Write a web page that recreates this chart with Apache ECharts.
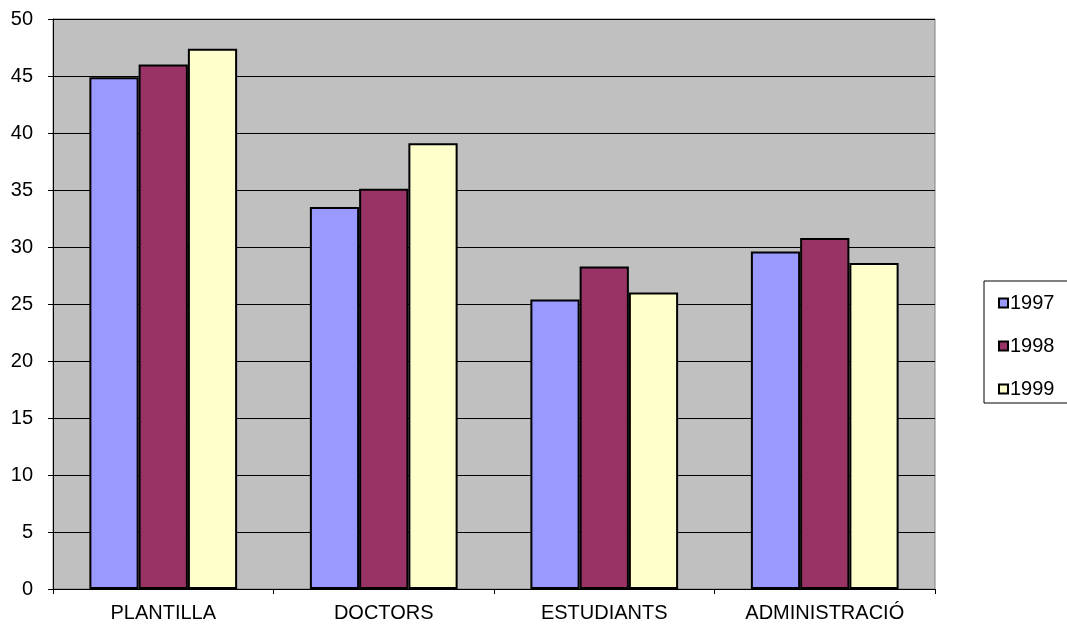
<!DOCTYPE html>
<html>
<head>
<meta charset="utf-8">
<script src="https://cdn.jsdelivr.net/npm/echarts@6/dist/echarts.min.js"></script>
<style>
  html, body { margin: 0; padding: 0; background: #fff; }
  #main { width: 1067px; height: 628px; }
</style>
</head>
<body>
<div id="main"></div>
<script>
// dades
var categories = ['PLANTILLA', 'DOCTORS', 'ESTUDIANTS', 'ADMINISTRACIÓ'];
var years = ['1997', '1998', '1999'];
var values1997 = [44.9, 33.5, 25.4, 29.6];
var values1998 = [46.0, 35.1, 28.3, 30.8];
var values1999 = [47.4, 39.1, 26.0, 28.6];
var colors = ['#9999FF', '#993366', '#FFFFCC'];

var chart = echarts.init(document.getElementById('main'), null, { renderer: 'canvas' });
var font = 'Liberation Sans, Arial, sans-serif';

function bar(name, data, color) {
  return {
    name: name,
    type: 'bar',
    data: data,
    barGap: '0%',
    barCategoryGap: '33%',
    itemStyle: { color: color, borderColor: '#000', borderWidth: 2 },
    emphasis: { disabled: true }
  };
}

var option = {
  animation: false,
  grid: {
    left: 53, right: 132, top: 19, bottom: 39,
    show: true,
    backgroundColor: '#C0C0C0',
    borderColor: '#808080',
    borderWidth: 1
  },
  legend: {
    orient: 'vertical',
    left: 984,
    top: 281,
    padding: [12, 40, 4, 14],
    itemGap: 23,
    itemWidth: 9,
    itemHeight: 9,
    icon: 'rect',
    borderColor: '#000',
    borderWidth: 1,
    data: years,
    textStyle: { fontFamily: font, fontSize: 20, color: '#000', lineHeight: 20, padding: [0, 0, 0, -3] }
  },
  xAxis: {
    type: 'category',
    data: categories,
    axisLine: { lineStyle: { color: '#000', width: 1 } },
    axisTick: { show: true, length: 5, lineStyle: { color: '#000' } },
    axisLabel: { fontFamily: font, fontSize: 20, color: '#000', margin: 14 }
  },
  yAxis: {
    type: 'value',
    min: 0,
    max: 50,
    interval: 5,
    axisLine: { show: true, lineStyle: { color: '#000', width: 1 } },
    axisTick: { show: true, length: 5, lineStyle: { color: '#000' } },
    axisLabel: { fontFamily: font, fontSize: 20, color: '#000', margin: 20 },
    splitLine: { lineStyle: { color: '#000', width: 1 } }
  },
  series: [
    bar(years[0], values1997, colors[0]),
    bar(years[1], values1998, colors[1]),
    bar(years[2], values1999, colors[2])
  ]
};
chart.setOption(option);
</script>
</body>
</html>
